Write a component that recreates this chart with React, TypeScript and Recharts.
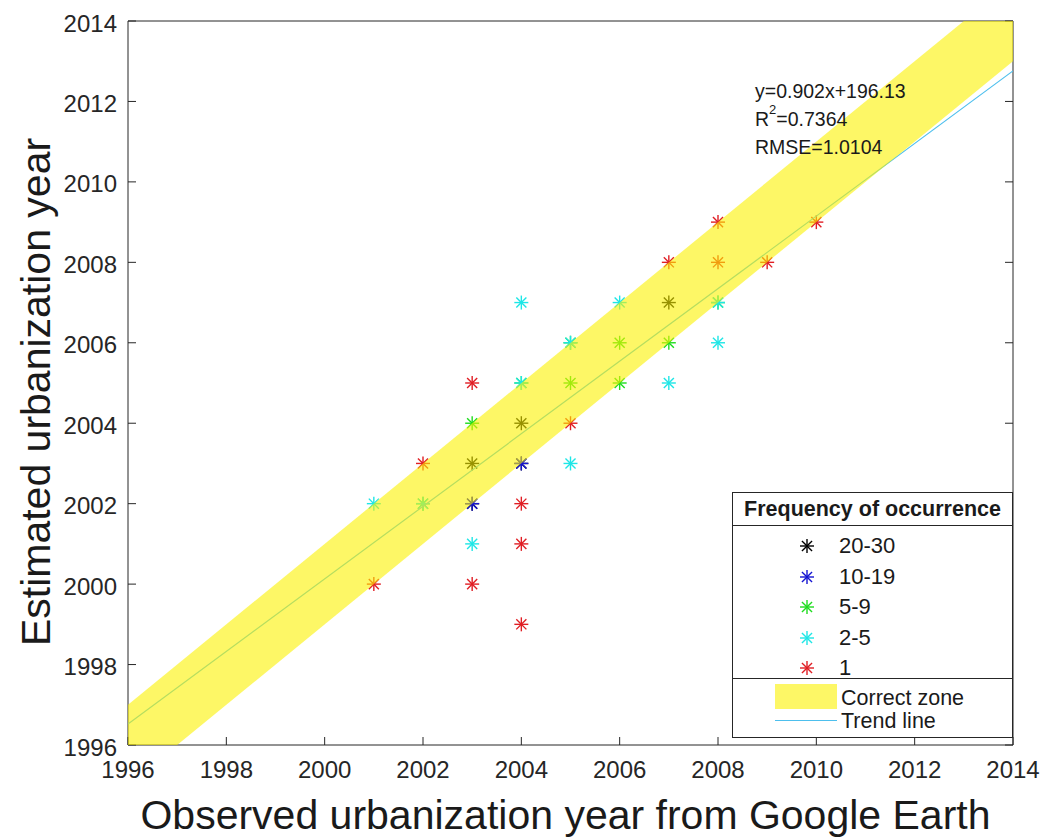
import React from 'react';
import { ComposedChart, XAxis, YAxis, Scatter, Line, Area, Legend, Label } from 'recharts';

// ---- data ----
const axisTicks = [1996, 1998, 2000, 2002, 2004, 2006, 2008, 2010, 2012, 2014];

// correct zone (y = x ± 1) and trend line endpoints
const bandX = [1996, 2014];
const bandLow = [1995, 2013];
const bandHigh = [1997, 2015];
const trendY = [1996.52, 2012.76];

// points [observed, estimated] per frequency class
const freq20to30: number[][] = [[2003, 2003], [2004, 2004], [2007, 2007], [2003, 2002], [2004, 2003]];
const freq10to19: number[][] = [[2003, 2002], [2004, 2003]];
const freq5to9: number[][] = [
  [2002, 2002], [2003, 2004], [2004, 2005], [2005, 2005], [2005, 2006],
  [2006, 2006], [2006, 2005], [2007, 2006], [2008, 2007],
];
const freq2to5: number[][] = [
  [2001, 2002], [2002, 2002], [2003, 2001], [2004, 2007], [2004, 2005], [2005, 2003],
  [2005, 2006], [2006, 2007], [2007, 2005], [2008, 2006], [2008, 2007],
];
const freq1: number[][] = [
  [2001, 2000], [2002, 2003], [2003, 2005], [2003, 2000], [2004, 2002], [2004, 2001],
  [2004, 1999], [2005, 2004], [2007, 2008], [2008, 2009], [2008, 2008], [2009, 2008], [2010, 2009],
];

const seriesNames = ['20-30', '10-19', '5-9', '2-5', '1'];
const seriesColors = ['#000000', '#1414d2', '#1edc1e', '#1ee6e6', '#e01e24'];
const seriesPoints = [freq20to30, freq10to19, freq5to9, freq2to5, freq1];

const xLabel = 'Observed urbanization year from Google Earth';
const yLabel = 'Estimated urbanization year';

const lineData = bandX.map((x, i) => ({ x, band: [bandLow[i], bandHigh[i]], trend: trendY[i] }));

const FONT = '"Liberation Sans", Arial, Helvetica, sans-serif';
const AXIS_COLOR = '#262626';
const BAND_COLOR = '#fbf200';
const TREND_COLOR = '#4dbfed';

function Asterisk({ cx, cy, color, r = 7 }: { cx: number; cy: number; color: string; r?: number }) {
  const d = r * 0.72;
  return (
    <g stroke={color} strokeWidth={1.4} fill="none">
      <line x1={cx - r} y1={cy} x2={cx + r} y2={cy} />
      <line x1={cx} y1={cy - r} x2={cx} y2={cy + r} />
      <line x1={cx - d} y1={cy - d} x2={cx + d} y2={cy + d} />
      <line x1={cx - d} y1={cy + d} x2={cx + d} y2={cy - d} />
    </g>
  );
}

function FreqLegend() {
  const rowY = [53, 84, 114, 145, 175];
  return (
    <div
      style={{
        position: 'relative', width: 279, height: 244, border: `1px solid ${AXIS_COLOR}`,
        background: '#fff', fontFamily: FONT, color: '#1a1a1a',
      }}
    >
      <div style={{ position: 'absolute', left: 0, top: 4, width: 279, textAlign: 'center', fontWeight: 'bold', fontSize: 21.5, lineHeight: '24px' }}>
        Frequency of occurrence
      </div>
      <div style={{ position: 'absolute', left: 0, top: 32, width: 279, height: 1, background: AXIS_COLOR }} />
      {seriesNames.map((n, i) => (
        <React.Fragment key={n}>
          <svg style={{ position: 'absolute', left: 65, top: rowY[i] - 9 }} width={18} height={18}>
            <Asterisk cx={9} cy={9} color={seriesColors[i]} r={7} />
          </svg>
          <div style={{ position: 'absolute', left: 106, top: rowY[i] - 12, fontSize: 22, lineHeight: '24px' }}>{n}</div>
        </React.Fragment>
      ))}
      <div style={{ position: 'absolute', left: 0, top: 185, width: 279, height: 1, background: AXIS_COLOR }} />
      <div style={{ position: 'absolute', left: 42, top: 191, width: 62, height: 25, background: BAND_COLOR, opacity: 0.6 }} />
      <div style={{ position: 'absolute', left: 108, top: 193, fontSize: 21.5, lineHeight: '24px' }}>Correct zone</div>
      <div style={{ position: 'absolute', left: 42, top: 227, width: 62, height: 1, background: TREND_COLOR }} />
      <div style={{ position: 'absolute', left: 108, top: 216, fontSize: 21.5, lineHeight: '24px' }}>Trend line</div>
    </div>
  );
}

function YLabelContent(props: any) {
  const vb = props.viewBox || { x: 0, y: 0, width: 0, height: 0 };
  const x = vb.x + 50;
  const y = vb.y + vb.height / 2 + 9;
  return (
    <text
      x={x}
      y={y}
      transform={`rotate(-90, ${x}, ${y})`}
      textAnchor="middle"
      style={{ fontSize: 41, fill: '#1a1a1a', fontFamily: FONT }}
    >
      {yLabel}
    </text>
  );
}

function XLabelContent(props: any) {
  const vb = props.viewBox || { x: 0, y: 0, width: 0, height: 0 };
  const x = vb.x + vb.width / 2 - 5;
  const y = vb.y + vb.height - 10;
  return (
    <text x={x} y={y} textAnchor="middle" style={{ fontSize: 41, fill: '#1a1a1a', fontFamily: FONT }}>
      {xLabel}
    </text>
  );
}

export default function App() {
  return (
    <div style={{ position: 'absolute', left: 0, top: 0, width: 1044, height: 839, background: '#fff', fontFamily: FONT }}>
      <ComposedChart
        width={1044}
        height={839}
        data={lineData}
        margin={{ top: 20, right: 30, bottom: 0, left: 0 }}
      >
        <XAxis
          dataKey="x"
          type="number"
          domain={[1996, 2014]}
          ticks={axisTicks}
          allowDataOverflow
          height={94}
          tickSize={-8}
          tickMargin={24}
          stroke={AXIS_COLOR}
          tick={{ fill: AXIS_COLOR, fontSize: 24, fontFamily: FONT }}
          interval={0}
        >
          <Label content={<XLabelContent />} />
        </XAxis>
        <XAxis
          xAxisId="top"
          orientation="top"
          type="number"
          domain={[1996, 2014]}
          ticks={axisTicks}
          allowDataOverflow
          height={1}
          tickSize={-8}
          tickFormatter={() => ''}
          stroke={AXIS_COLOR}
          interval={0}
        />
        <YAxis
          dataKey="y"
          type="number"
          domain={[1996, 2014]}
          ticks={axisTicks}
          allowDataOverflow
          width={128}
          tickSize={-8}
          tickMargin={19}
          stroke={AXIS_COLOR}
          tick={{ fill: AXIS_COLOR, fontSize: 24, fontFamily: FONT, dy: 2 }}
          interval={0}
        >
          <Label content={<YLabelContent />} />
        </YAxis>
        <YAxis
          yAxisId="right"
          orientation="right"
          type="number"
          domain={[1996, 2014]}
          ticks={axisTicks}
          allowDataOverflow
          width={1}
          tickSize={-8}
          tickFormatter={() => ''}
          stroke={AXIS_COLOR}
          interval={0}
        />
        {seriesNames.map((n, i) => (
          <Scatter
            key={n}
            name={n}
            data={seriesPoints[i].map(([x, y]) => ({ x, y }))}
            dataKey="y"
            fill={seriesColors[i]}
            isAnimationActive={false}
            shape={(p: any) => <Asterisk cx={p.cx} cy={p.cy} color={seriesColors[i]} />}
          />
        ))}
        <Line
          dataKey="trend"
          stroke={TREND_COLOR}
          strokeWidth={1.2}
          dot={false}
          activeDot={false}
          isAnimationActive={false}
          legendType="none"
          {...({ zIndex: 650 } as any)}
        />
        <Area
          dataKey="band"
          stroke="none"
          fill={BAND_COLOR}
          fillOpacity={0.6}
          dot={false}
          activeDot={false}
          isAnimationActive={false}
          legendType="none"
          {...({ zIndex: 700 } as any)}
        />
        <Legend
          layout="vertical"
          align="center"
          verticalAlign="middle"
          content={() => <FreqLegend />}
          wrapperStyle={{ left: 732, top: 492, width: 281, height: 246 }}
        />
      </ComposedChart>
      <div style={{ position: 'absolute', left: 755, top: 81, fontSize: 19.5, lineHeight: '20px', color: '#1a1a1a', fontFamily: FONT }}>
        y=0.902x+196.13
      </div>
      <div style={{ position: 'absolute', left: 755, top: 109, fontSize: 19.5, lineHeight: '20px', color: '#1a1a1a', fontFamily: FONT }}>
        R<sup style={{ fontSize: 13, verticalAlign: 'top', lineHeight: '10px', position: 'relative', top: -4 }}>2</sup>=0.7364
      </div>
      <div style={{ position: 'absolute', left: 755, top: 137, fontSize: 19.5, lineHeight: '20px', color: '#1a1a1a', fontFamily: FONT }}>
        RMSE=1.0104
      </div>
    </div>
  );
}
